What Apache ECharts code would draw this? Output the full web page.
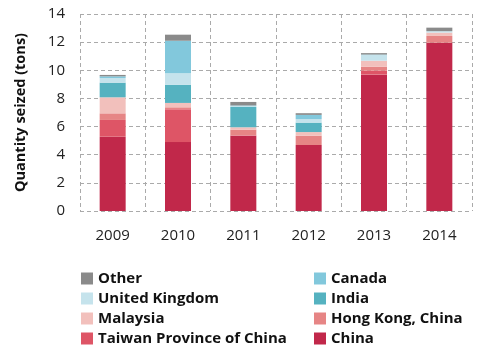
<!DOCTYPE html>
<html>
<head>
<meta charset="utf-8">
<script src="https://cdn.jsdelivr.net/npm/echarts@6/dist/echarts.min.js"></script>
<style>
  html, body { margin: 0; padding: 0; background: #fff; }
  #chart { width: 482px; height: 354px; }
</style>
</head>
<body>
<div id="chart"></div>
<script>
// years on the x axis
const years = ['2009', '2010', '2011', '2012', '2013', '2014']

// tons seized, stacked bottom to top
const china = [5.28, 4.90, 5.35, 4.69, 9.69, 11.96]
const taiwan = [1.19, 2.33, 0.03, 0.00, 0.28, 0.00]
const hongKong = [0.47, 0.14, 0.40, 0.66, 0.29, 0.48]
const malaysia = [1.14, 0.31, 0.17, 0.26, 0.42, 0.24]
const india = [1.04, 1.28, 1.45, 0.67, 0.00, 0.00]
const unitedKingdom = [0.33, 0.83, 0.05, 0.25, 0.41, 0.10]
const canada = [0.12, 2.31, 0.05, 0.30, 0.03, 0.00]
const other = [0.10, 0.43, 0.25, 0.12, 0.10, 0.25]

const chart = echarts.init(document.getElementById('chart'))
const font = 'Open Sans'

// one stacked bar series
const bar = (name, data, color) => ({
  name: name,
  type: 'bar',
  stack: 'total',
  barWidth: 26,
  data: data,
  itemStyle: { color: color }
})

const legendBase = {
  orient: 'vertical',
  top: 271,
  height: 150,
  padding: 0,
  itemWidth: 12,
  itemHeight: 12,
  itemGap: 5,
  icon: 'rect',
  textStyle: { fontFamily: font, fontSize: 15, lineHeight: 12, fontWeight: 'bold', color: '#111' }
}

const option = {
  animation: false,
  grid: { left: 80, right: 10, top: 14, bottom: 143 },
  legend: [
    Object.assign({}, legendBase, {
      left: 81,
      data: ['Other', 'United Kingdom', 'Malaysia', 'Taiwan Province of China']
    }),
    Object.assign({}, legendBase, {
      left: 314,
      data: ['Canada', 'India', 'Hong Kong, China', 'China']
    })
  ],
  xAxis: {
    type: 'category',
    data: years,
    axisLine: { show: false },
    axisTick: { show: false },
    axisLabel: { fontFamily: font, fontSize: 15, color: '#222', margin: 17 },
    splitLine: { show: true, lineStyle: { color: '#aaa', type: [4, 3] } }
  },
  yAxis: {
    type: 'value',
    min: 0,
    max: 14,
    interval: 2,
    name: 'Quantity seized (tons)',
    nameLocation: 'middle',
    nameGap: 52,
    nameTextStyle: { fontFamily: font, fontSize: 14.5, fontWeight: 'bold', color: '#111' },
    axisLine: { show: false },
    axisTick: { show: false },
    axisLabel: { fontFamily: font, fontSize: 15, color: '#222', margin: 15 },
    splitLine: { show: true, lineStyle: { color: '#aaa', type: [4, 3] } }
  },
  series: [
    bar('China', china, '#c1284a'),
    bar('Taiwan Province of China', taiwan, '#de5566'),
    bar('Hong Kong, China', hongKong, '#e68585'),
    bar('Malaysia', malaysia, '#f2c0bc'),
    bar('India', india, '#55b2c0'),
    bar('United Kingdom', unitedKingdom, '#c5e3ec'),
    bar('Canada', canada, '#82c8dc'),
    bar('Other', other, '#8a8a8a')
  ]
}

chart.setOption(option)
</script>
</body>
</html>
